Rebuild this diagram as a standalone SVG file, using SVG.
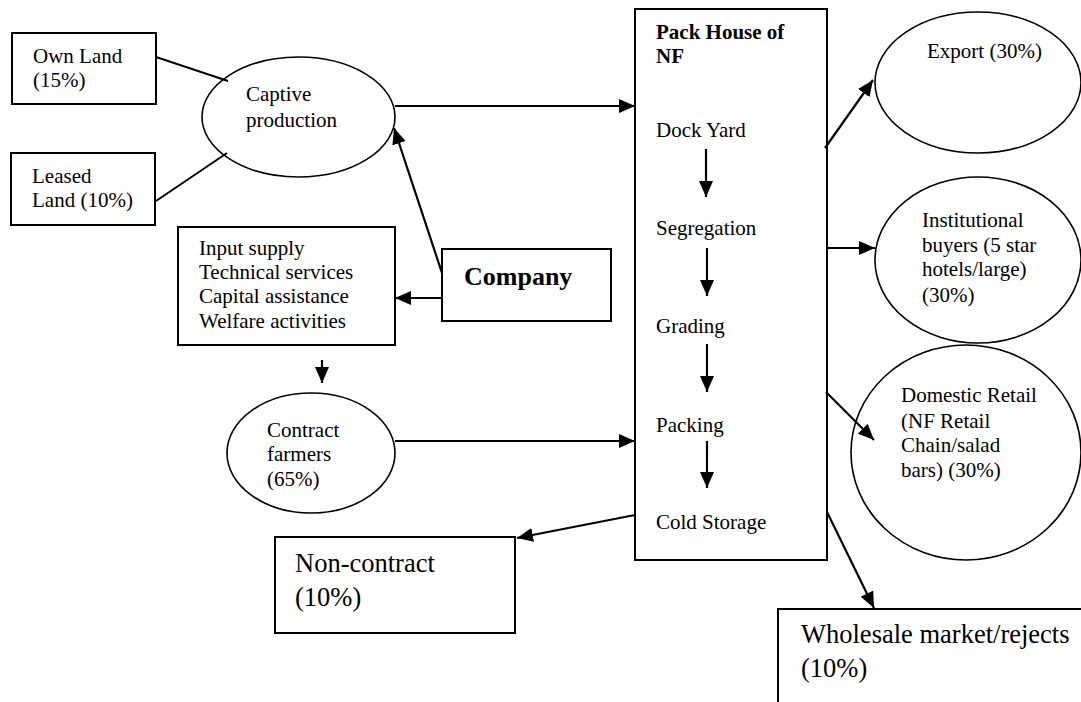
<svg xmlns="http://www.w3.org/2000/svg" width="1081" height="702" viewBox="0 0 1081 702">
  <style>
    .box { fill: #fff; stroke: #000; stroke-width: 2; }
    .oval { fill: #fff; stroke: #000; stroke-width: 1.6; }
    .t { font-family: "Liberation Serif", "Times New Roman", serif; font-size: 21px; fill: #000; }
    .b { font-weight: bold; }
    .big { font-size: 26.5px; }
    .co { font-size: 26px; font-weight: bold; }
    .ln { stroke: #000; stroke-width: 2; fill: none; }
    .arr { stroke: #000; stroke-width: 2.2; fill: none; marker-end: url(#head); }
  </style>
  <defs>
    <marker id="head" markerUnits="userSpaceOnUse" markerWidth="16" markerHeight="14" refX="16" refY="7" orient="auto">
      <path d="M0,0 L16,7 L0,14 z" fill="#000"/>
    </marker>
  </defs>
  <rect width="1081" height="702" fill="#fff"/>

  <g id="own-land">
    <rect class="box" x="12" y="33" width="144" height="71"/>
    <text class="t" x="33" y="63">Own Land</text>
    <text class="t" x="33" y="87">(15%)</text>
  </g>

  <g id="leased-land">
    <rect class="box" x="11" y="153" width="144" height="72"/>
    <text class="t" x="32" y="183">Leased</text>
    <text class="t" x="32" y="207">Land (10%)</text>
  </g>

  <g id="captive-production">
    <ellipse class="oval" cx="298.5" cy="117" rx="96.5" ry="60"/>
    <text class="t" x="246" y="101">Captive</text>
    <text class="t" x="246" y="127">production</text>
  </g>

  <g id="support">
    <rect class="box" x="178" y="227" width="217" height="118"/>
    <text class="t" x="199" y="255">Input supply</text>
    <text class="t" x="199" y="279">Technical services</text>
    <text class="t" x="199" y="303">Capital assistance</text>
    <text class="t" x="199" y="328">Welfare activities</text>
  </g>

  <g id="company">
    <rect class="box" x="442" y="249" width="169" height="72"/>
    <text class="t co" x="464" y="285">Company</text>
  </g>

  <g id="contract-farmers">
    <ellipse class="oval" cx="311" cy="453" rx="84" ry="60"/>
    <text class="t" x="267" y="437">Contract</text>
    <text class="t" x="267" y="461">farmers</text>
    <text class="t" x="267" y="486">(65%)</text>
  </g>

  <g id="non-contract">
    <rect class="box" x="275" y="537" width="240" height="96"/>
    <text class="t big" x="295" y="572">Non-contract</text>
    <text class="t big" x="295" y="606">(10%)</text>
  </g>

  <g id="pack-house">
    <rect class="box" x="635" y="9" width="192" height="551"/>
    <text class="t b" x="656" y="39">Pack House of</text>
    <text class="t b" x="656" y="63">NF</text>
    <text class="t" x="656" y="137">Dock Yard</text>
    <text class="t" x="656" y="235">Segregation</text>
    <text class="t" x="656" y="333">Grading</text>
    <text class="t" x="656" y="432">Packing</text>
    <text class="t" x="656" y="529">Cold Storage</text>
  </g>

  <g id="export">
    <ellipse class="oval" cx="978" cy="82.5" rx="103" ry="70.5"/>
    <text class="t" x="927" y="58">Export (30%)</text>
  </g>

  <g id="institutional">
    <ellipse class="oval" cx="978" cy="260" rx="103" ry="83"/>
    <text class="t" x="922" y="227">Institutional</text>
    <text class="t" x="922" y="252">buyers (5 star</text>
    <text class="t" x="922" y="276">hotels/large)</text>
    <text class="t" x="922" y="302">(30%)</text>
  </g>

  <g id="domestic-retail">
    <ellipse class="oval" cx="966" cy="452.5" rx="115" ry="107.5"/>
    <text class="t" x="901" y="402">Domestic Retail</text>
    <text class="t" x="901" y="428">(NF Retail</text>
    <text class="t" x="901" y="452">Chain/salad</text>
    <text class="t" x="901" y="477">bars) (30%)</text>
  </g>

  <g id="wholesale">
    <rect class="box" x="778" y="609" width="320" height="110"/>
    <text class="t big" x="801" y="643">Wholesale market/rejects</text>
    <text class="t big" x="801" y="677">(10%)</text>
  </g>

  <!-- connectors, drawn over the shapes -->
  <g id="connectors">
    <line class="ln" x1="156" y1="57" x2="228" y2="81"/>
    <line class="ln" x1="156" y1="201" x2="227" y2="153"/>
    <line class="arr" x1="395" y1="106" x2="635" y2="106"/>
    <line class="arr" x1="442" y1="273" x2="394" y2="128"/>
    <line class="arr" x1="442" y1="298" x2="395" y2="298"/>
    <line class="arr" x1="322" y1="360" x2="322" y2="383"/>
    <line class="arr" x1="395" y1="441" x2="635" y2="441"/>
    <line class="arr" x1="706" y1="149" x2="706" y2="197"/>
    <line class="arr" x1="707" y1="248" x2="707" y2="296"/>
    <line class="arr" x1="707" y1="344" x2="707" y2="392"/>
    <line class="arr" x1="707" y1="441" x2="707" y2="488"/>
    <line class="arr" x1="825" y1="148" x2="873" y2="80"/>
    <line class="arr" x1="827" y1="248" x2="875" y2="248"/>
    <line class="arr" x1="826" y1="392" x2="874" y2="440"/>
    <line class="arr" x1="827" y1="512" x2="874" y2="608"/>
    <line class="arr" x1="635" y1="515" x2="517" y2="538"/>
  </g>
</svg>
